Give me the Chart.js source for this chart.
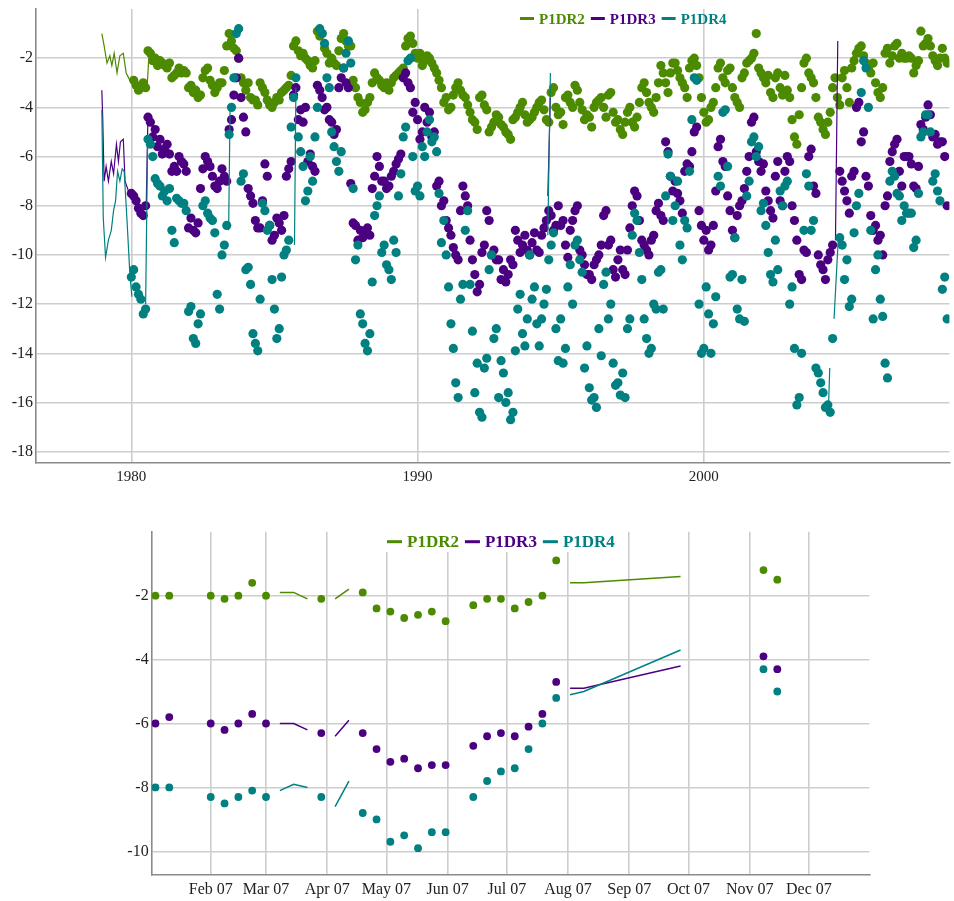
<!DOCTYPE html>
<html>
<head>
<meta charset="utf-8">
<script src="https://cdn.jsdelivr.net/npm/chart.js@4.4.1/dist/chart.umd.min.js"></script>
<style>
  body { margin: 0; background: #fff; }
  #wrap { position: relative; width: 954px; height: 901px; }
  #overview { position: absolute; left: 0; top: 0; }
  #detail { position: absolute; left: 0; top: 500px; }
</style>
</head>
<body>
<div id="wrap">
  <canvas id="overview" width="954" height="495"></canvas>
  <canvas id="detail" width="954" height="401"></canvas>
</div>
<script>
const seriesNames = ['P1DR2', 'P1DR3', 'P1DR4'];
const seriesColors = ['#4c8a00', '#4b0082', '#008080'];

// ---- overview: one reading per month from Jan 1980 (one row per year)
const overviewStart = 1980;
const overviewYears = [1980, 1990, 2000];
const overviewLevels = [-2, -4, -6, -8, -10, -12, -14, -16, -18];

const dr2Dots = [
  null, -2.9, -3.1, -3.3, -3.2, -3.0, -3.2, -1.7, -1.8, -2.1, -2.0, -2.3,
  -2.1, -2.2, -2.3, -2.4, -2.2, -2.8, -2.7, -2.6, -2.4, -2.6, -2.5, -2.6,
  -3.2, -3.1, -3.4, -3.3, -3.6, -3.5, -2.8, -2.5, -2.4, -2.9, -3.1, -3.4,
  -3.2, -3.0, -3.0, -2.5, -1.5, -1.0, -1.3, -1.6, -1.7, -2.0, -2.8, -3.0,
  -3.3, -3.0, -3.6, -3.7, -3.7, -3.9, -3.0, -3.2, -3.4, -3.7, -3.9, -4.0,
  -3.8, -3.6, -3.7, -3.4, -3.3, -3.2, -3.1, -2.7, -1.5, -1.3, -1.7, -1.9,
  -1.8, -2.0, -2.1, -2.3, -2.4, -2.1, -0.9, -1.1, -1.0, -1.6, -1.8, -2.2,
  -2.0, -2.2, -2.3, -1.7, -1.2, -1.0, -1.3, -1.5, -1.5, -2.9, -3.2, -3.6,
  -3.8, -4.2, -4.1, -3.8, -3.6, -3.0, -2.6, -2.8, -2.9, -3.1, -3.2, -3.0,
  -3.3, -3.0, -2.8, -2.7, -2.6, -2.5, -2.4, -1.5, -1.2, -1.1, -1.4, -1.8,
  -2.0, -1.8, -2.3, -2.1, -1.9, -2.0, -2.2, -2.4, -2.6, -2.9, -3.2, -3.8,
  -3.6, -4.1, -4.0, -3.5, -3.2, -3.0, -3.3, -3.5, -3.6, -3.9, -4.2, -4.5,
  -4.6, -4.9, -3.6, -3.5, -3.9, -4.1, -5.0, -4.8, -4.6, -4.3, -4.4, -4.7,
  -4.8, -5.0, -5.1, -5.3, -4.5, -4.4, -4.2, -4.0, -3.8, -4.3, -4.6, -4.5,
  -4.4, -4.2, -4.0, -3.8, -3.7, -4.1, -4.5, -4.6, -3.4, -3.2, -4.0, -4.3,
  -4.2, -4.7, -3.6, -3.5, -3.8, -4.0, -3.1, -3.3, -3.8, -4.1, -4.5, -4.3,
  -4.4, -4.8, -4.0, -3.8, -3.7, -3.6, -4.0, -4.4, -3.5, -3.4, -4.2, -4.6,
  -4.5, -4.9, -5.1, -4.6, -4.2, -4.0, -4.6, -4.8, -4.4, -3.8, -3.2, -3.0,
  -3.4, -3.8, -4.0, -4.2, -3.6, -3.0, -2.3, -2.6, -3.0, -3.4, -2.6, -2.2,
  -2.2, -2.5, -2.8, -3.0, -3.2, -3.6, -2.4, -2.1, -2.0, -2.3, -2.8, -3.6,
  -4.2, -4.6, -4.5, -4.0, -3.8, -3.2, -2.4, -2.2, -2.8, -3.0, -2.5, -2.4,
  -3.2, -3.6, -3.8, -4.0, -2.8, -2.6, -2.2, -2.1, -2.0, -1.8, -1.0, -2.4,
  -2.6, -2.8, -3.0, -2.7, -3.4, -3.6, -2.8, -2.6, -3.2, -3.5, -2.7, -3.3,
  -3.6, -4.5, -5.2, -5.5, -4.3, -3.2, -2.2, -2.0, -2.6, -2.8, -3.0, -3.6,
  -4.4, -4.6, -4.9, -5.1, -4.6, -4.2, -3.2, -2.8, -3.6, -3.9, -2.8, -2.5,
  -3.2, -3.8, -2.4, -2.1, -1.8, -1.6, -1.5, -1.9, -2.2, -2.4, -2.6, -2.2,
  -3.0, -3.4, -3.6, -3.2, -1.8, -1.6, -2.2, -1.9, -1.5, -1.4, -2.0, -1.8,
  -2.0, -2.0, -1.9, -2.0, -2.6, -2.3, -2.1, -0.9, -1.5, -1.4, -1.2, -1.5,
  -1.9, -2.1, -2.3, -2.0, -1.6, -2.0, -2.2
];
const dr3Dots = [
  -7.5, -7.6, -7.8, -8.1, -8.3, -8.4, -8.0, -4.4, -4.6, -5.2, -4.9, -5.6,
  -5.3, -5.9, -5.7, -5.5, -5.9, -6.6, -6.4, -6.6, -6.0, -6.2, -6.3, -6.6,
  -8.9, -8.5, -9.0, -9.1, -8.7, -7.3, -6.5, -6.0, -6.2, -6.4, -6.8, -7.2,
  -7.3, -7.0, -6.5, -6.8, -7.0, -4.9, -4.5, -3.5, -2.8, -2.0, -3.6, -4.4,
  -5.0, -7.3, -7.6, -7.9, -8.6, -8.9, -8.9, -7.8, -6.3, -6.8, -8.8, -9.4,
  -9.2, -8.5, -8.7, -9.0, -8.4, -6.8, -6.5, -6.2, -3.5, -3.2, -4.5, -4.1,
  -4.6, -4.0, -6.2, -5.9, -6.4, -6.6, -3.1, -3.3, -3.6, -4.1, -4.0, -4.5,
  -4.6, -5.1, -4.9, -3.2, -2.8, -2.4, -3.0, -3.2, -7.1, -8.7, -8.8, -9.4,
  -9.0, -9.3, -9.2, -8.9, -9.2, -7.3, -6.8, -6.0, -6.4, -7.0, -7.0, -7.3,
  -7.2, -6.8, -6.6, -6.3, -6.1, -5.9, -2.8, -2.6, -3.0, -3.2, -4.2, -3.8,
  -4.5, -5.3, -5.0, -4.0, -4.6, -4.2, -5.2, -5.0, -7.2, -7.0, -8.0, -7.8,
  -8.6, -8.9, -9.2, -9.7, -10.0, -10.2, -8.2, -7.2, -7.6, -8.0, -9.4, -10.2,
  -10.8, -11.5, -11.2, -9.9, -9.6, -8.2, -8.6, -10.0, -9.8, -10.2, -10.2, -11.0,
  -10.6, -11.1, -10.8, -10.2, -10.4, -9.0, -9.4, -9.9, -9.6, -9.2, -9.8, -10.0,
  -9.5, -9.1, -9.8, -9.9, -9.2, -8.9, -8.6, -8.2, -8.4, -9.0, -8.8, -8.0,
  -8.8, -8.6, -9.6, -10.1, -9.0, -8.6, -8.2, -8.0, -9.8, -10.0, -10.4, -10.8,
  -10.8, -11.0, -10.4, -10.2, -10.0, -9.6, -8.4, -8.2, -9.6, -9.4, -10.6, -10.9,
  -10.2, -9.8, -10.6, -10.8, -9.8, -8.9, -8.0, -7.4, -7.6, -8.6, -9.4, -9.6,
  -9.8, -10.0, -9.4, -9.2, -8.2, -7.9, -8.4, -8.6, -5.4, -5.8, -6.8, -7.4,
  -7.0, -7.5, -7.8, -8.3, -6.6, -6.3, -6.4, -5.8, -5.0, -4.8, -8.2, -8.8,
  -9.4, -9.0, -9.8, -9.6, -8.8, -7.4, -5.6, -5.3, -6.2, -6.4, -7.6, -8.2,
  -9.0, -9.3, -8.4, -8.0, -7.8, -7.3, -6.6, -6.0, -4.6, -4.4, -5.8, -6.2,
  -6.6, -6.3, -7.4, -7.8, -8.2, -8.5, -6.8, -6.2, -7.8, -8.0, -6.6, -6.0,
  -6.2, -8.0, -8.6, -9.4, -10.8, -11.0, -9.8, -9.9, -6.0, -5.7, -7.2, -7.5,
  -10.0, -10.4, -10.6, -11.0, -10.2, -9.9, -9.6, null, null, -6.6, -7.0, -7.4,
  -7.8, -8.3, -6.8, -6.6, -4.0, -3.8, -5.4, -5.0, -6.8, -7.2, -8.4, -9.0,
  -8.8, -9.4, -9.2, -10.0, -8.0, -7.6, -6.2, -5.8, -5.5, -5.3, -6.6, -7.2,
  -6.0, -6.0, -6.0, -6.3, -7.2, -7.3, -6.4, -4.7, -4.9, -4.4, -3.9, -4.3,
  -5.2, -5.1, -5.5, -5.4, -5.4, -6.0, -8.0
];
const dr4Dots = [
  -10.9, -10.6, -11.3, -11.6, -11.8, -12.4, -12.2, -5.3, -5.5, -6.0, -6.9, -7.1,
  -7.2, -7.6, -7.4, -7.8, -7.3, -9.0, -9.5, -7.7, -7.8, -7.9, -7.9, -8.2,
  -12.3, -12.1, -13.4, -13.6, -12.8, -12.4, -8.0, -7.8, -8.3, -8.5, -8.6, -9.1,
  -11.6, -12.2, -10.0, -9.6, -8.8, -5.1, -4.0, -2.8, -1.0, -0.8, -7.0, -6.7,
  -10.6, -10.5, -11.2, -13.2, -13.6, -13.9, -11.8, -7.9, -8.2, -9.0, -8.8, -11.0,
  -12.2, -13.4, -13.0, -10.9, -10.0, -9.8, -9.4, -4.8, -3.6, -2.8, -5.2, -5.8,
  -6.4, -7.8, -7.4, -6.0, -7.0, -5.2, -4.0, -0.8, -1.0, -1.4, -2.8, -3.2,
  -5.0, -5.6, -6.2, -6.6, -5.8, -2.4, -1.8, -1.3, -2.2, -7.3, -10.2, -9.6,
  -12.4, -12.8, -13.6, -13.9, -13.2, -11.1, -8.4, -8.0, -7.6, -9.9, -9.6, -10.4,
  -10.6, -11.0, -9.4, -9.9, -7.6, -6.7, -5.2, -4.8, -2.1, -2.0, -6.0, -7.4,
  -7.2, -7.6, -5.6, -6.0, -5.0, -4.5, -5.4, -5.2, -5.8, -7.5, -9.5, -8.6,
  -10.0, -11.3, -12.8, -13.8, -15.2, -15.8, -11.8, -11.2, -9.0, -8.2, -11.2, -13.1,
  -15.6, -14.4, -16.4, -16.6, -14.6, -14.2, -10.6, -10.0, -13.4, -13.0, -15.8, -14.3,
  -14.8, -16.0, -15.6, -16.7, -16.4, -13.9, -12.2, -11.6, -13.2, -13.7, -12.6, -10.0,
  -11.8, -11.3, -12.8, -13.7, -12.6, -12.0, -11.4, -10.2, -9.6, -9.1, -13.0, -14.3,
  -12.6, -14.4, -13.8, -11.3, -10.4, -12.0, -9.6, -9.4, -10.2, -10.7, -14.6, -13.7,
  -15.4, -15.9, -15.8, -16.2, -13.0, -14.1, -11.2, -10.7, -12.6, -12.0, -14.4, -15.3,
  -15.2, -15.7, -14.8, -15.8, -13.0, -12.6, -9.2, -8.3, -8.6, -9.9, -11.0, -12.6,
  -13.4, -14.0, -13.8, -12.0, -12.2, -10.7, -10.6, -12.2, -7.6, -5.9, -6.8, -8.6,
  -8.0, -7.0, -9.6, -10.2, -8.6, -8.9, -6.6, -4.5, -2.8, -2.9, -12.0, -14.0,
  -13.8, -11.3, -12.4, -14.0, -12.8, -11.7, -6.8, -7.2, -4.2, -4.1, -6.4, -10.9,
  -10.8, -9.3, -12.2, -12.6, -11.0, -12.7, -7.6, -7.0, -5.4, -5.2, -6.0, -5.6,
  -8.2, -7.9, -8.8, -9.9, -10.8, -11.1, -9.4, -10.6, -7.4, -8.0, -7.2, -7.0,
  -12.0, -11.3, -13.8, -16.1, -15.8, -14.0, -9.0, -6.7, -7.2, -9.0, -8.6, -14.6,
  -14.8, -15.2, -15.6, -16.2, -16.1, -16.4, -13.4, null, null, -9.3, -9.6, -11.0,
  -10.2, -12.1, -11.8, -9.1, -8.0, -7.5, -3.4, -2.1, -2.4, -4.0, -9.0, -12.6,
  -10.6, -10.0, -11.8, -12.5, -14.4, -15.0, -7.0, -6.6, -6.8, -7.5, -7.6, -8.6,
  -8.0, -8.3, -8.3, -8.3, -9.7, -9.4, -7.5, -5.2, -5.0, -4.3, -4.3, -5.0,
  -7.0, -6.7, -7.4, -7.8, -11.4, -10.9, -12.6
];

// continuous stretches drawn as thin lines: [year, value], null = break
const dr2Line = [
  [1978.97, -1.0], [1979.05, -1.5], [1979.15, -2.2], [1979.25, -1.9], [1979.32, -2.3],
  [1979.4, -1.8], [1979.5, -2.6], [1979.6, -1.9], [1979.72, -1.8], [1979.82, -2.6],
  [1979.95, -2.9], [1980.1, -3.1], null,
  [1980.55, -3.2], [1980.62, -1.8]
];
const dr3Line = [
  [1978.97, -3.3], [1979.0, -4.4], [1979.05, -7.0], [1979.12, -6.4], [1979.2, -7.0],
  [1979.3, -6.2], [1979.38, -6.7], [1979.48, -5.5], [1979.55, -6.2], [1979.62, -5.4],
  [1979.72, -5.3], [1979.78, -7.0], [1979.9, -7.4], [1980.0, -7.6], null,
  [1980.52, -8.0], [1980.58, -4.4], null,
  [1994.55, -7.6], [1994.64, -3.6], null,
  [2004.6, -9.4], [2004.68, -1.3]
];
const dr4Line = [
  [1978.97, -4.1], [1979.02, -8.5], [1979.1, -10.1], [1979.2, -9.4], [1979.3, -9.0],
  [1979.38, -8.2], [1979.45, -7.8], [1979.52, -6.6], [1979.6, -7.0], [1979.68, -6.5],
  [1979.75, -6.6], [1979.85, -8.6], [1979.95, -10.8], [1980.02, -11.7], null,
  [1980.5, -12.0], [1980.57, -5.4], null,
  [1983.4, -9.0], [1983.45, -4.0], null,
  [1985.7, -9.6], [1985.75, -3.2], null,
  [1994.55, -9.2], [1994.64, -2.6], null,
  [2004.35, -16.4], [2004.4, -14.6], null,
  [2004.55, -12.6], [2004.7, -9.3]
];

// ---- detail: 2007, weekly readings (MM-DD)
const detailMonths = ['Feb 07', 'Mar 07', 'Apr 07', 'May 07', 'Jun 07', 'Jul 07', 'Aug 07', 'Sep 07', 'Oct 07', 'Nov 07', 'Dec 07'];
const detailLevels = [-2, -4, -6, -8, -10];
const detailDates = ['01-04', '01-11', '02-01', '02-08', '02-15', '02-22', '03-01', '03-29', '04-19', '04-26',
  '05-03', '05-10', '05-17', '05-24', '05-31', '06-14', '06-21', '06-28', '07-05', '07-12', '07-19', '07-26',
  '11-08', '11-15'];
const dr2Detail = [-2.0, -2.0, -2.0, -2.1, -2.0, -1.6, -2.0, -2.1, -1.9, -2.4,
  -2.5, -2.7, -2.6, -2.5, -2.8, -2.3, -2.1, -2.1, -2.4, -2.2, -2.0, -0.9,
  -1.2, -1.5];
const dr3Detail = [-6.0, -5.8, -6.0, -6.2, -6.0, -5.7, -6.0, -6.3, -6.3, -6.8,
  -7.2, -7.1, -7.4, -7.3, -7.3, -6.7, -6.4, -6.3, -6.4, -6.1, -5.7, -4.7,
  -3.9, -4.3];
const dr4Detail = [-8.0, -8.0, -8.3, -8.5, -8.3, -8.1, -8.3, -8.3, -8.8, -9.0,
  -9.7, -9.5, -9.9, -9.4, -9.4, -8.3, -7.8, -7.5, -7.4, -6.8, -6.0, -5.2,
  -4.3, -5.0];
const detailLineDates = ['03-08', '03-15', '03-22', null, '04-05', '04-12', null, '08-02', '08-09', '09-27'];
const dr2DetailLine = [-1.9, -1.9, -2.1, null, -2.1, -1.8, null, -1.6, -1.6, -1.4];
const dr3DetailLine = [-6.0, -6.0, -6.2, null, -6.4, -5.9, null, -4.9, -4.9, -4.2];
const dr4DetailLine = [-8.1, -7.9, -8.0, null, -8.6, -7.8, null, -5.1, -5.0, -3.7];

// ---- helpers
const dayOf = s => {
  const [m, d] = s.split('-').map(Number);
  return (Date.UTC(2007, m - 1, d) - Date.UTC(2007, 0, 1)) / 864e5;
};
const dotPoints = vals => vals.map((v, i) => ({ x: overviewStart + i / 12, y: v }));
const linePoints = pairs => {
  let last = 0;
  return pairs.map(p => {
    if (p === null) return { x: last, y: null };
    last = p[0];
    return { x: p[0], y: p[1] };
  });
};
const dateDots = (dates, vals) => dates.map((d, i) => ({ x: dayOf(d), y: vals[i] }));
const dateLine = (dates, vals) => linePoints(dates.map((d, i) => d === null ? null : [dayOf(d), vals[i]]));

function buildDatasets(dots, lines, radius, lineWidth) {
  const out = [];
  // teal on top, then purple, then green
  [2, 1, 0].forEach((s, k) => {
    out.push({
      data: dots[s], showLine: false, order: k * 2,
      pointRadius: radius, pointHoverRadius: radius, pointBorderWidth: 0,
      pointBackgroundColor: seriesColors[s], borderColor: seriesColors[s]
    });
    out.push({
      data: lines[s], order: k * 2 + 1, spanGaps: false,
      pointRadius: 0, borderWidth: lineWidth, borderColor: seriesColors[s]
    });
  });
  return out;
}

const overlayLegend = {
  id: 'overlayLegend',
  afterDraw(chart, args, o) {
    const ctx = chart.ctx;
    ctx.save();
    ctx.font = 'bold ' + o.size + 'px "Liberation Serif", "Times New Roman", serif';
    if (o.box) {
      ctx.fillStyle = '#fff';
      ctx.fillRect(o.box[0], o.box[1], o.box[2], o.box[3]);
    }
    let x = o.x;
    seriesNames.forEach((name, i) => {
      ctx.strokeStyle = seriesColors[i];
      ctx.lineWidth = 3;
      ctx.beginPath();
      ctx.moveTo(x, o.dashY);
      ctx.lineTo(x + o.dash, o.dashY);
      ctx.stroke();
      x += o.dash + o.gap;
      ctx.fillStyle = seriesColors[i];
      ctx.fillText(name, x, o.baseY);
      x += ctx.measureText(name).width + o.gap2;
    });
    ctx.restore();
  }
};

function axisFit(size, horizontal) {
  return s => {
    if (horizontal) s.height = size; else s.width = size;
    s.paddingTop = 0; s.paddingBottom = 0; s.paddingLeft = 0; s.paddingRight = 0;
  };
}

const gridStyle = { color: '#cdcdcd', lineWidth: 1.6, drawTicks: false };
const borderStyle = { color: '#8a8a8a', width: 1.6 };
const serif = '"Liberation Serif", "Times New Roman", serif';

new Chart(document.getElementById('overview'), {
  type: 'line',
  data: {
    datasets: buildDatasets(
      [dotPoints(dr2Dots), dotPoints(dr3Dots), dotPoints(dr4Dots)],
      [linePoints(dr2Line), linePoints(dr3Line), linePoints(dr4Line)],
      4.6, 1.2)
  },
  options: {
    responsive: false,
    animation: false,
    layout: { padding: { top: 9, left: 0, right: 0, bottom: 0 } },
    scales: {
      x: {
        type: 'linear', min: 1976.67, max: 2008.58,
        afterBuildTicks: s => { s.ticks = overviewYears.map(v => ({ value: v })); },
        afterFit: axisFit(32, true),
        grid: gridStyle, border: borderStyle,
        ticks: { padding: 5, color: '#222', font: { family: serif, size: 15 }, callback: v => String(v) }
      },
      y: {
        min: -18.46, max: 0,
        afterBuildTicks: s => { s.ticks = overviewLevels.map(v => ({ value: v })); },
        afterFit: axisFit(36, false),
        grid: gridStyle, border: borderStyle,
        ticks: { padding: 3, color: '#222', font: { family: serif, size: 16 }, callback: v => String(v) }
      }
    },
    plugins: {
      legend: { display: false },
      tooltip: { enabled: false },
      overlayLegend: { x: 520, dashY: 18.5, baseY: 24, dash: 14, gap: 5, gap2: 6, size: 15 }
    }
  },
  plugins: [overlayLegend]
});

new Chart(document.getElementById('detail'), {
  type: 'line',
  data: {
    datasets: buildDatasets(
      [dateDots(detailDates, dr2Detail), dateDots(detailDates, dr3Detail), dateDots(detailDates, dr4Detail)],
      [dateLine(detailLineDates, dr2DetailLine), dateLine(detailLineDates, dr3DetailLine), dateLine(detailLineDates, dr4DetailLine)],
      3.9, 1.5)
  },
  options: {
    responsive: false,
    animation: false,
    layout: { padding: { top: 31.7, left: 100, right: 84.7, bottom: 0 } },
    scales: {
      x: {
        type: 'linear', min: 1.1, max: 364.6,
        afterBuildTicks: s => {
          s.ticks = detailMonths.map((m, i) => ({ value: (Date.UTC(2007, i + 1, 1) - Date.UTC(2007, 0, 1)) / 864e5 }));
        },
        afterFit: axisFit(26, true),
        grid: gridStyle, border: borderStyle,
        ticks: { padding: 5, color: '#222', font: { family: serif, size: 16 }, autoSkip: false, maxRotation: 0,
          callback: (v, i) => detailMonths[i] }
      },
      y: {
        min: -10.74, max: 0,
        afterBuildTicks: s => { s.ticks = detailLevels.map(v => ({ value: v })); },
        afterFit: axisFit(51.7, false),
        grid: gridStyle, border: borderStyle,
        ticks: { padding: 3, color: '#222', font: { family: serif, size: 16 }, callback: v => String(v) }
      }
    },
    plugins: {
      legend: { display: false },
      tooltip: { enabled: false },
      overlayLegend: { x: 387, dashY: 41.7, baseY: 47.3, dash: 15, gap: 5, gap2: 6, size: 17, box: [383, 32, 232, 20] }
    }
  },
  plugins: [overlayLegend]
});
</script>
</body>
</html>
